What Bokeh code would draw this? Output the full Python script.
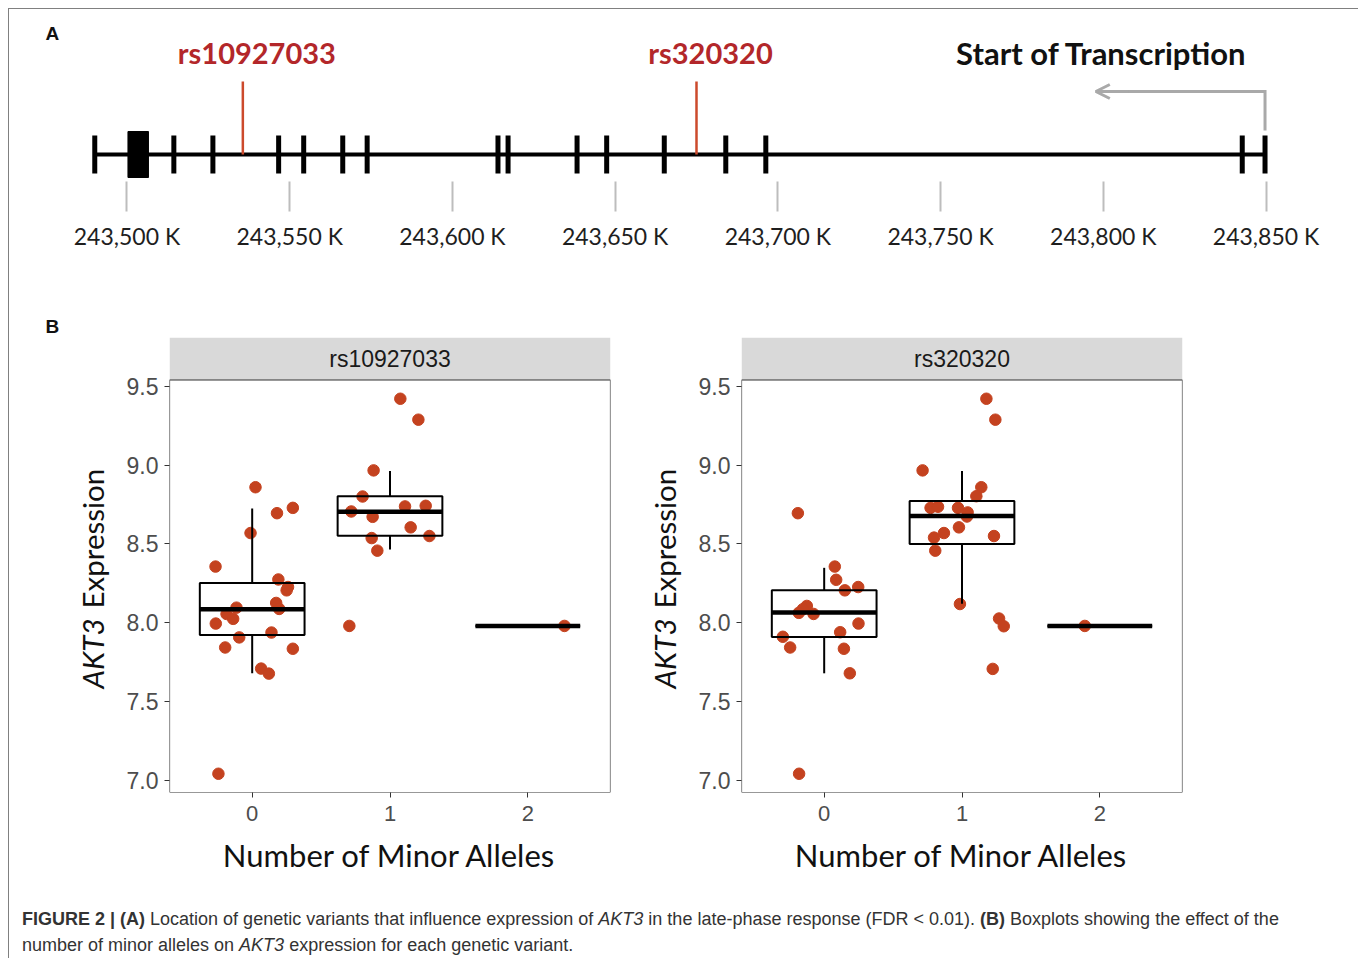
import math
from bokeh.plotting import figure
from bokeh.models import (Range1d, FixedTicker, BoxAnnotation, Div,
                          ColumnDataSource, Arrow, OpenHead)
from bokeh.layouts import column, row
from bokeh.embed import file_html
from bokeh.resources import INLINE
from bokeh.core.properties import value

# ---------------- Panel A data (genomic position, kb) ----------------
gene_start = 243490.1
gene_end = 243849.7
exon_ticks = [243490.1, 243514.4, 243526.4, 243546.6, 243554.3, 243566.3,
              243573.8, 243614.0, 243617.1, 243638.3, 243647.4, 243665.1,
              243684.0, 243696.3, 243842.7, 243849.7]
big_exon_start = [243500.3]
big_exon_end = [243506.6]
snp_names = ["rs10927033", "rs320320"]
snp_pos = [243535.6, 243675.0]
tss_pos = [243849.7]
tss_text = ["Start of Transcription"]
axis_ticks = [243500, 243550, 243600, 243650, 243700, 243750, 243800, 243850]
axis_labels = ["243,500 K", "243,550 K", "243,600 K", "243,650 K",
               "243,700 K", "243,750 K", "243,800 K", "243,850 K"]

# ---------------- Panel B data ----------------
categories = ["0", "1", "2"]
cat_pos = [0, 1, 2]
y_ticks = [7.0, 7.5, 8.0, 8.5, 9.0, 9.5]
y_tick_labels = ["7.0", "7.5", "8.0", "8.5", "9.0", "9.5"]
y_title_italic = "AKT3"
y_title_rest = "Expression"
x_title = "Number of Minor Alleles"

# rs10927033 : group, horizontal jitter, expression
rs1_group = [0]*21 + [1]*13 + [2]
rs1_jitter = [-0.266, 0.024, 0.180, 0.295, -0.012, 0.190, 0.260, 0.250, 0.174,
              0.196, -0.114, -0.186, -0.138, -0.264, -0.094, 0.140, -0.196,
              0.295, 0.065, 0.121, -0.245,
              0.075, 0.206, -0.119, -0.199, -0.281, -0.126, 0.109, 0.259,
              0.150, 0.286, -0.133, -0.092, -0.295,
              0.266]
rs1_expr = [8.356, 8.860, 8.695, 8.729, 8.569, 8.274, 8.226, 8.205, 8.125,
            8.087, 8.095, 8.055, 8.024, 7.994, 7.906, 7.937, 7.842, 7.834,
            7.708, 7.676, 7.040,
            9.422, 9.289, 8.967, 8.801, 8.706, 8.672, 8.738, 8.742, 8.605,
            8.550, 8.537, 8.457, 7.979,
            7.979]
rs1_q1 = [7.922, 8.552, 7.979]
rs1_med = [8.085, 8.704, 7.979]
rs1_q3 = [8.251, 8.803, 7.979]
rs1_wlo = [7.678, 8.464, 7.979]
rs1_whi = [8.725, 8.963, 7.979]

# rs320320
rs2_group = [0]*16 + [1]*19 + [2]
rs2_jitter = [-0.191, 0.077, 0.087, 0.150, 0.247, -0.126, -0.155, -0.184,
              -0.077, 0.249, -0.300, 0.116, -0.247, 0.143, 0.186, -0.182,
              0.177, 0.242, -0.286, 0.140, 0.104, -0.228, -0.174, -0.029,
              0.041, 0.036, -0.022, -0.131, -0.203, 0.232, -0.194, -0.015,
              0.269, 0.303, 0.223,
              -0.109]
rs2_expr = [8.695, 8.356, 8.272, 8.205, 8.226, 8.106, 8.085, 8.062, 8.055,
            7.994, 7.910, 7.939, 7.842, 7.834, 7.678, 7.040,
            9.422, 9.289, 8.967, 8.860, 8.803, 8.729, 8.736, 8.729, 8.700,
            8.674, 8.605, 8.569, 8.540, 8.550, 8.457, 8.118, 8.026, 7.977,
            7.706,
            7.979]
rs2_q1 = [7.908, 8.500, 7.979]
rs2_med = [8.064, 8.677, 7.979]
rs2_q3 = [8.205, 8.773, 7.979]
rs2_wlo = [7.678, 8.120, 7.979]
rs2_whi = [8.348, 8.963, 7.979]

# ---------------- styles ----------------
CAL = "Lato"
HEL = "Liberation Sans"
RED_LINE = "#cc4a2c"
RED_TEXT = "#b3272a"
DOT = "#c4421f"
GRAY_TICK = "#bdbdbd"
ROW_H = 580

# ================= Panel A =================
pA = figure(width=1346, height=291, output_backend="svg", toolbar_location=None,
            x_range=Range1d(243463.9, 243877.5), y_range=Range1d(-27, 145),
            min_border_left=0, min_border_right=0, min_border_top=0,
            min_border_bottom=119, y_axis_location=None,
            outline_line_color=None)
pA.grid.visible = False

pA.segment(x0=[gene_start], y0=[0], x1=[gene_end], y1=[0], line_width=4,
           line_color="black")
pA.rect(x=exon_ticks, y=0, width=5, height=38, width_units="screen",
        height_units="screen", fill_color="black", line_color=None)
pA.quad(left=big_exon_start, right=big_exon_end, bottom=-23, top=23,
        fill_color="black", line_color="black", line_width=1,
        line_join="round")
pA.segment(x0=snp_pos, y0=0, x1=snp_pos, y1=73, line_width=2.5,
           line_color=RED_LINE)
pA.text(x=snp_pos, y=102, text=snp_names, x_offset=14, text_align="center",
        text_baseline="middle", text_font=value(CAL), text_font_style="bold",
        text_font_size="29px", text_color=RED_TEXT)
pA.text(x=tss_pos, y=102, text=tss_text, x_offset=-18, text_align="right",
        text_baseline="middle", text_font=value(CAL), text_font_style="bold",
        text_font_size="31px", text_color="#111111")
arrow_len = 52
tss = tss_pos[0]
pA.line(x=[tss, tss, tss - arrow_len], y=[24, 63, 63], line_width=3,
        line_color="#a9a9a9", line_join="miter")
pA.add_layout(Arrow(end=OpenHead(size=14, line_color="#a9a9a9", line_width=3),
                    x_start=tss - arrow_len + 10, y_start=63,
                    x_end=tss - arrow_len, y_end=63,
                    line_color="#a9a9a9", line_width=3))
pA.text(x=[pA.x_range.start], y=[121], text=["A"], x_offset=36,
        text_align="left", text_baseline="middle", text_font=value(HEL),
        text_font_style="bold", text_font_size="19px", text_color="#111")

ax = pA.xaxis[0]
ax.ticker = FixedTicker(ticks=axis_ticks)
ax.major_label_overrides = {t: l for t, l in zip(axis_ticks, axis_labels)}
ax.axis_line_color = None
ax.major_tick_out = 30
ax.major_tick_in = 0
ax.major_tick_line_color = GRAY_TICK
ax.major_tick_line_width = 2
ax.minor_tick_line_color = None
ax.major_label_text_font = CAL
ax.major_label_text_font_size = "23px"
ax.major_label_text_color = "#1e1e1e"
ax.major_label_standoff = 10


# ============ side strips holding the y-axis titles ============
def title_strip(width, base_x, panel_letter=None):
    t = figure(width=width, height=ROW_H, output_backend="svg",
               toolbar_location=None, x_range=Range1d(0, width),
               y_range=Range1d(0, ROW_H), min_border=0, frame_align=False,
               x_axis_location=None, y_axis_location=None,
               outline_line_color=None)
    t.grid.visible = False
    t.text(x=[base_x], y=[ROW_H - 388], text=[y_title_italic],
           angle=math.pi / 2, text_align="left", text_baseline="alphabetic",
           text_font=value(CAL), text_font_style="italic",
           text_font_size="29.5px", text_color="#111")
    t.text(x=[base_x], y=[ROW_H - 308], text=[y_title_rest],
           angle=math.pi / 2, text_align="left", text_baseline="alphabetic",
           text_font=value(CAL), text_font_size="29.5px", text_color="#111")
    if panel_letter:
        t.text(x=[36], y=[ROW_H - 26], text=[panel_letter], text_align="left",
               text_baseline="middle", text_font=value(HEL),
               text_font_style="bold", text_font_size="19px",
               text_color="#111")
    return t


# ================= Panel B facets =================
def facet(name, group, jitter, expr, q1, med, q3, wlo, whi, width, mb_left,
          mb_right):
    lo, hi = min(expr), max(expr)
    pad = 0.05 * (hi - lo)
    ylo, yhi = lo - pad, hi + pad
    panel_px, strip_px = 412.5, 42.5
    ytop = yhi + (yhi - ylo) * strip_px / panel_px
    p = figure(width=width, height=ROW_H, output_backend="svg",
               toolbar_location=None, x_range=Range1d(-0.6, 2.6),
               y_range=Range1d(ylo, ytop), min_border_top=37,
               min_border_bottom=88, min_border_left=mb_left,
               min_border_right=mb_right, outline_line_color=None,
               frame_align=False)
    p.grid.visible = False

    p.add_layout(BoxAnnotation(bottom=yhi, fill_color="#d9d9d9", fill_alpha=1,
                               line_color=None, level="underlay"))
    p.add_layout(BoxAnnotation(bottom=ylo, top=yhi, fill_alpha=0,
                               line_color="#333333", line_alpha=1,
                               line_width=1.2))
    p.text(x=[1], y=[(yhi + ytop) / 2], text=[name], text_align="center",
           text_baseline="middle", text_font=value(HEL),
           text_font_size="23px", text_color="#1a1a1a")

    xs = [g + j for g, j in zip(group, jitter)]
    p.scatter(x=xs, y=expr, size=11.5, fill_color=DOT, line_color=DOT)

    half = 0.38
    src = ColumnDataSource(dict(x=cat_pos, l=[c - half for c in cat_pos],
                                r=[c + half for c in cat_pos], q1=q1, med=med,
                                q3=q3, wlo=wlo, whi=whi))
    p.segment(x0="x", y0="q3", x1="x", y1="whi", source=src, line_width=2,
              line_color="black")
    p.segment(x0="x", y0="q1", x1="x", y1="wlo", source=src, line_width=2,
              line_color="black")
    p.quad(left="l", right="r", bottom="q1", top="q3", source=src,
           fill_color=None, line_color="black", line_width=2)
    p.segment(x0="l", y0="med", x1="r", y1="med", source=src, line_width=4.5,
              line_color="black")

    xa = p.xaxis[0]
    xa.ticker = FixedTicker(ticks=cat_pos)
    xa.major_label_overrides = {c: s for c, s in zip(cat_pos, categories)}
    xa.axis_line_color = None
    xa.major_tick_out = 5
    xa.major_tick_in = 0
    xa.major_tick_line_color = "#333"
    xa.minor_tick_line_color = None
    xa.major_label_text_font = HEL
    xa.major_label_text_font_size = "22px"
    xa.major_label_text_color = "#4d4d4d"
    xa.major_label_standoff = 8
    xa.axis_label = x_title
    xa.axis_label_text_font = CAL
    xa.axis_label_text_font_style = "normal"
    xa.axis_label_text_font_size = "31px"
    xa.axis_label_text_color = "#111"
    xa.axis_label_standoff = 12

    ya = p.yaxis[0]
    ya.ticker = FixedTicker(ticks=y_ticks)
    ya.major_label_overrides = {t: s for t, s in zip(y_ticks, y_tick_labels)}
    ya.axis_line_color = None
    ya.major_tick_out = 5
    ya.major_tick_in = 0
    ya.major_tick_line_color = "#333"
    ya.minor_tick_line_color = None
    ya.major_label_text_font = HEL
    ya.major_label_text_font_size = "23px"
    ya.major_label_text_color = "#4d4d4d"
    ya.major_label_standoff = 6
    return p


tL = title_strip(106, 83, "B")
pL = facet("rs10927033", rs1_group, rs1_jitter, rs1_expr, rs1_q1, rs1_med,
           rs1_q3, rs1_wlo, rs1_whi, 525, 54, 30)
tR = title_strip(47, 24)
pR = facet("rs320320", rs2_group, rs2_jitter, rs2_expr, rs2_q1, rs2_med,
           rs2_q3, rs2_wlo, rs2_whi, 668, 54, 173)

caption_html = (
    '<div style="font-family:\'Liberation Sans\',Arial,sans-serif;'
    'font-size:18px;color:#333;line-height:26px;margin-left:8px;margin-top:21px;'
    'white-space:nowrap;">'
    '<b>FIGURE 2 | (A)</b> Location of genetic variants that influence expression of '
    '<i>AKT3</i> in the late-phase response (FDR &lt; 0.01). <b>(B)</b> Boxplots '
    'showing the effect of the<br>number of minor alleles on <i>AKT3</i> expression '
    'for each genetic variant.</div>')
cap = Div(text=caption_html, width=1346, height=68)

layout = column(pA, row(tL, pL, tR, pR), cap,
                styles={"margin-left": "8px", "margin-top": "8px",
                        "border-top": "1px solid #808080",
                        "border-left": "1px solid #808080",
                        "border-right": "1px solid #808080"})

open("out.html", "w").write(file_html(layout, INLINE))
